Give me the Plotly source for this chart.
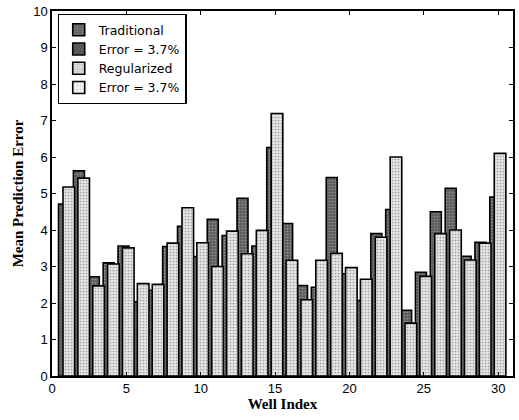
import plotly.graph_objects as go

wells = list(range(1, 31))
traditional = [4.71, 5.62, 2.72, 3.10, 3.56, 2.03, 2.35, 3.55, 4.10, 3.27,
               4.29, 3.85, 4.87, 3.56, 6.26, 4.18, 2.48, 2.43, 5.44, 2.80,
               2.07, 3.90, 4.56, 1.80, 2.84, 4.50, 5.14, 3.28, 3.66, 4.90]
regularized = [5.18, 5.42, 2.47, 3.07, 3.51, 2.53, 2.51, 3.64, 4.61, 3.65,
               3.00, 3.97, 3.35, 3.99, 7.19, 3.17, 2.09, 3.17, 3.36, 2.97,
               2.65, 3.80, 6.00, 1.45, 2.73, 3.90, 4.00, 3.18, 3.64, 6.10]
legend_names = ["Traditional", "Error = 3.7%", "Regularized", "Error = 3.7%"]
x_ticks = [0, 5, 10, 15, 20, 25, 30]
y_ticks = list(range(0, 11))

dark = dict(color="#5e5e5e", line=dict(color="black", width=1.6),
            pattern=dict(shape=".", fgcolor="#c8c8c8", bgcolor="#5e5e5e", size=3, solidity=0.25))
darker = dict(color="#4a4a4a", line=dict(color="black", width=1.6),
              pattern=dict(shape="x", fgcolor="#bdbdbd", bgcolor="#4a4a4a", size=3, solidity=0.3))
light = dict(color="#dcdcdc", line=dict(color="black", width=1.6),
             pattern=dict(shape=".", fgcolor="#555555", bgcolor="#e4e4e4", size=3, solidity=0.25))
lighter = dict(color="#f0f0f0", line=dict(color="black", width=1.6),
               pattern=dict(shape=".", fgcolor="#888888", bgcolor="#f2f2f2", size=4, solidity=0.15))

fig = go.Figure()
fig.add_trace(go.Bar(x=wells, y=traditional, name=legend_names[0], marker=dark,
                     offset=-0.56, width=0.74))
fig.add_trace(go.Bar(x=[None], y=[None], name=legend_names[1], marker=darker))
fig.add_trace(go.Bar(x=wells, y=regularized, name=legend_names[2], marker=light,
                     offset=-0.26, width=0.78))
fig.add_trace(go.Bar(x=[None], y=[None], name=legend_names[3], marker=lighter))

axis_common = dict(showline=True, linecolor="black", linewidth=1.5, mirror="allticks",
                   ticks="inside", ticklen=4, tickcolor="black", showgrid=False, zeroline=False,
                   tickfont=dict(family="Liberation Sans, Arial", size=13, color="black"))

fig.update_layout(
    width=519, height=420,
    margin=dict(l=52, r=4, t=11, b=44),
    plot_bgcolor="white", paper_bgcolor="white",
    barmode="overlay",
    showlegend=True,
    legend=dict(x=0.012, y=0.992, xanchor="left", yanchor="top",
                bgcolor="white", bordercolor="black", borderwidth=1.2,
                font=dict(family="DejaVu Sans, Liberation Sans", size=12.5, color="black"),
                tracegroupgap=0, itemwidth=30),
    xaxis=dict(range=[0, 31], tickvals=x_ticks,
               title=dict(text="<b>Well Index</b>", standoff=2,
                          font=dict(family="Liberation Serif, Times New Roman", size=15, color="black")),
               **axis_common),
    yaxis=dict(range=[0, 10], tickvals=y_ticks,
               title=dict(text="<b>Mean Prediction Error</b>", standoff=6,
                          font=dict(family="Liberation Serif, Times New Roman", size=15, color="black")),
               **axis_common),
)

fig.write_html("out.html")
